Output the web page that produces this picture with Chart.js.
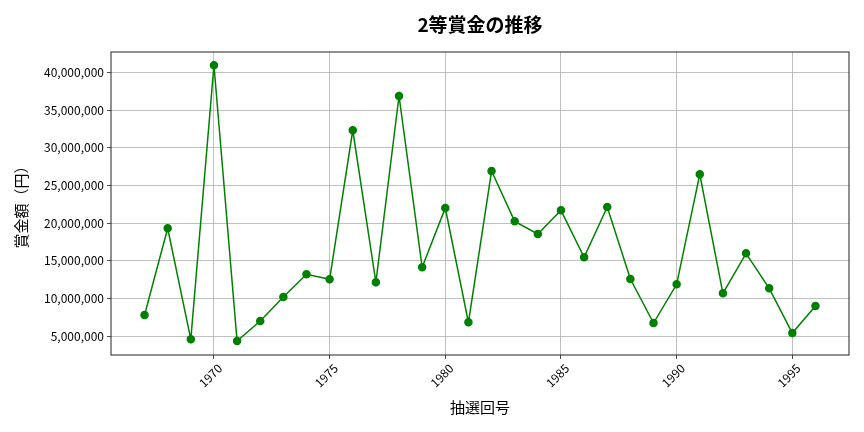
<!DOCTYPE html>
<html>
<head>
<meta charset="utf-8">
<script src="https://cdn.jsdelivr.net/npm/chart.js@4/dist/chart.umd.min.js"></script>
<style>
  html, body { margin: 0; padding: 0; background: #fff; }
  #wrap { width: 864px; height: 432px; }
</style>
</head>
<body>
<div id="wrap"><canvas id="chart"></canvas></div>
<script>
const years = [1967, 1968, 1969, 1970, 1971, 1972, 1973, 1974, 1975, 1976,
               1977, 1978, 1979, 1980, 1981, 1982, 1983, 1984, 1985, 1986,
               1987, 1988, 1989, 1990, 1991, 1992, 1993, 1994, 1995, 1996];
const prizes = [7820000, 19310000, 4600000, 40930000, 4370000, 7030000, 10210000, 13220000, 12550000, 32310000,
                12150000, 36860000, 14140000, 22010000, 6850000, 26910000, 20240000, 18560000, 21700000, 15470000,
                22140000, 12590000, 6760000, 11890000, 26480000, 10700000, 16000000, 11360000, 5430000, 9010000];
const xTicks = [1970, 1975, 1980, 1985, 1990, 1995];
const yTicks = [5000000, 10000000, 15000000, 20000000, 25000000, 30000000, 35000000, 40000000];
const chartTitle = '2等賞金の推移';

const FONT = '"Noto Sans CJK JP", "Noto Sans", sans-serif';

// matplotlib-style frame round the plot area, title centred over the axes
const frame = {
    id: 'frame',
    afterDraw(chart) {
        const { ctx, chartArea: a } = chart;
        ctx.save();
        ctx.strokeStyle = '#222';
        ctx.lineWidth = 1;
        ctx.strokeRect(a.left, a.top, a.right - a.left, a.bottom - a.top);
        ctx.fillStyle = '#000';
        ctx.font = 'bold 19px ' + FONT;
        ctx.textAlign = 'center';
        ctx.textBaseline = 'middle';
        ctx.fillText(chartTitle, (a.left + a.right) / 2, 25);
        ctx.restore();
    }
};

new Chart(document.getElementById('chart'), {
    type: 'line',
    data: {
        datasets: [{
            data: years.map((y, i) => ({ x: y, y: prizes[i] })),
            borderColor: '#008000',
            backgroundColor: '#008000',
            borderWidth: 1.5,
            pointRadius: 3.5,
            pointHoverRadius: 3.5,
            tension: 0
        }]
    },
    options: {
        responsive: true,
        maintainAspectRatio: false,
        animation: false,
        layout: { padding: { left: 0, right: 15, top: 52, bottom: 16 } },
        plugins: {
            legend: { display: false },
            tooltip: { enabled: false },
            title: { display: false }
        },
        scales: {
            x: {
                type: 'linear',
                min: 1965.55,
                max: 1997.45,
                afterBuildTicks: s => { s.ticks = xTicks.map(v => ({ value: v })); },
                afterFit: s => { s.height = 61; },
                ticks: {
                    color: '#000',
                    font: { family: FONT, size: 12 },
                    minRotation: 45,
                    maxRotation: 45,
                    padding: 2,
                    labelOffset: 6,
                    callback: v => String(v)
                },
                grid: { color: '#b0b0b0', lineWidth: 0.8, tickLength: 4, tickColor: '#222' },
                border: { display: false },
                title: {
                    display: true,
                    text: '抽選回号',
                    color: '#000',
                    font: { family: FONT, size: 15 },
                    padding: { top: 6, bottom: 0 }
                }
            },
            y: {
                min: 2520000,
                max: 42690000,
                afterBuildTicks: s => { s.ticks = yTicks.map(v => ({ value: v })); },
                afterFit: s => { s.width = 111; },
                ticks: {
                    color: '#000',
                    font: { family: FONT, size: 12 },
                    padding: 3,
                    callback: v => v.toLocaleString('en-US')
                },
                grid: { color: '#b0b0b0', lineWidth: 0.8, tickLength: 4, tickColor: '#222' },
                border: { display: false },
                title: {
                    display: true,
                    text: '賞金額（円）',
                    color: '#000',
                    font: { family: FONT, size: 15 },
                    padding: { top: 12, bottom: 6 }
                }
            }
        }
    },
    plugins: [frame]
});
</script>
</body>
</html>
